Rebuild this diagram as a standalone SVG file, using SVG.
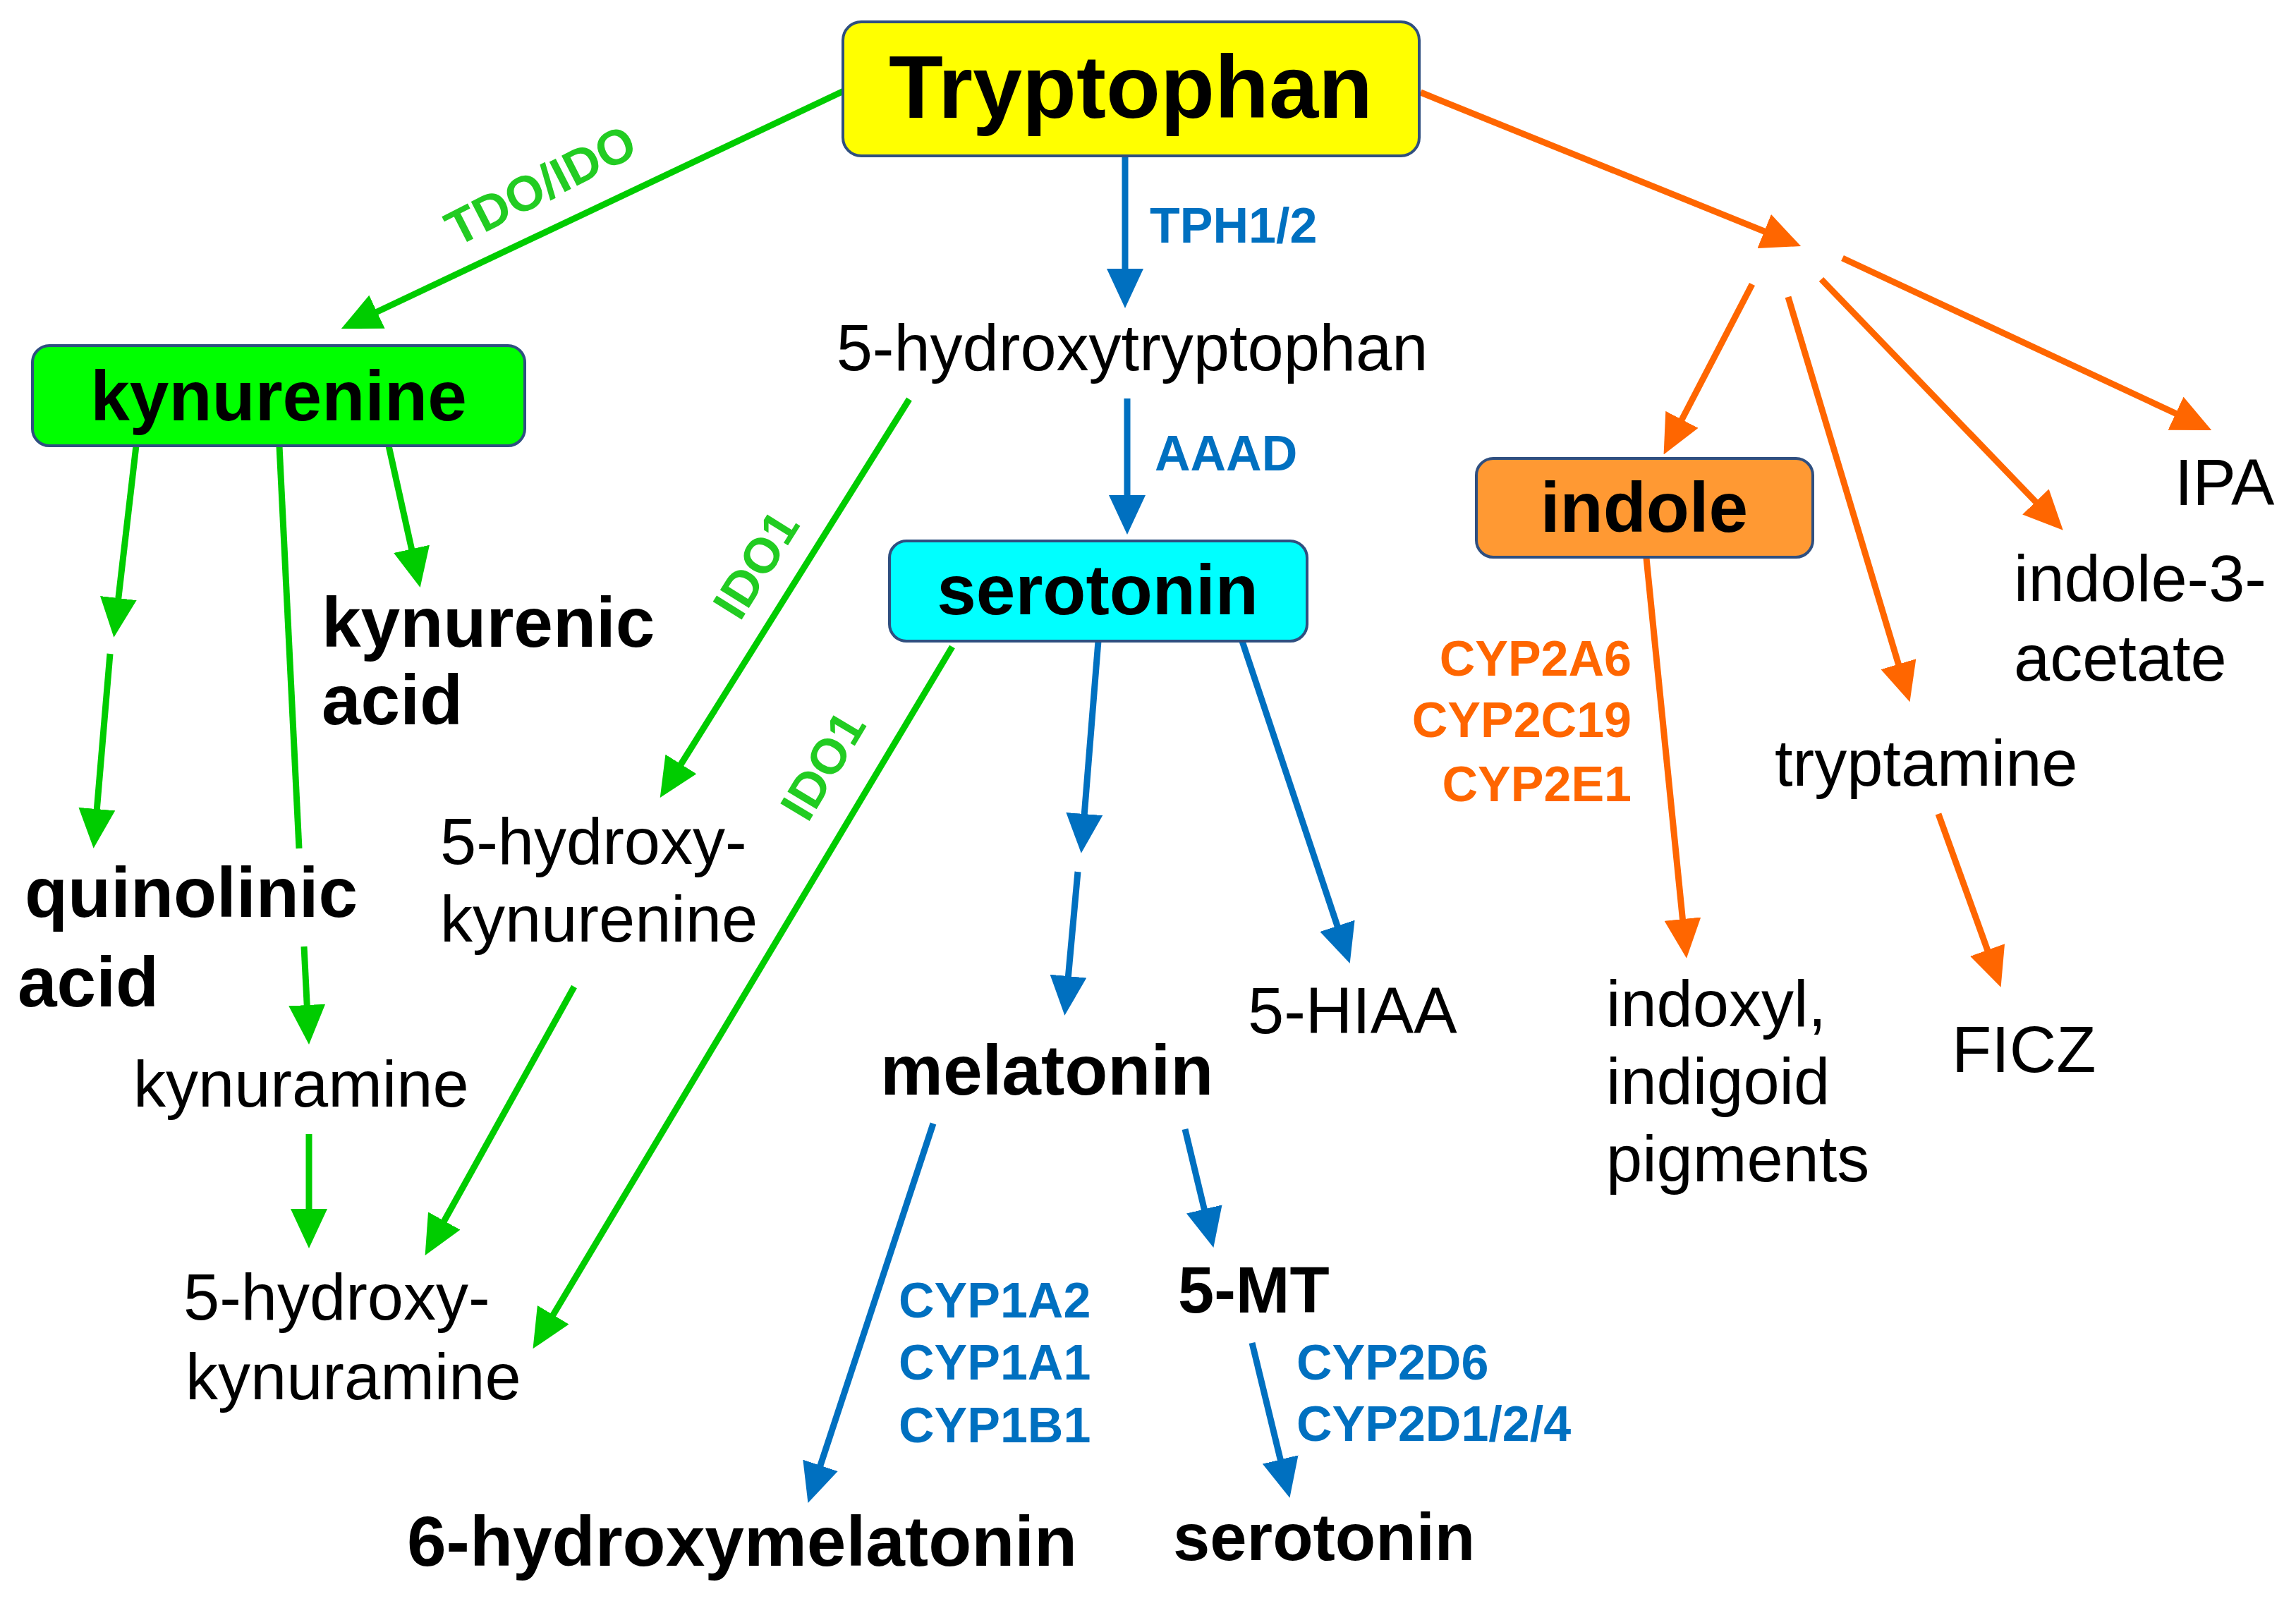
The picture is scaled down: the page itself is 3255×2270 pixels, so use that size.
<svg xmlns="http://www.w3.org/2000/svg" width="3255" height="2270" viewBox="0 0 3255 2270">
<style>
text{font-family:"Liberation Sans",Arial,sans-serif;fill:#000}
.b{font-weight:bold}
.lbl{font-size:92px}
.bl{font-size:100px;font-weight:bold}
.enz{font-size:70px;font-weight:bold}
.eg{fill:#22CC22}.eb{fill:#0070C0}.eo{fill:#FF6600}
.box{stroke:#2F4F80;stroke-width:4}
.g{stroke:#00CC00;stroke-width:9;fill:none}
.bu{stroke:#0070C0;stroke-width:9;fill:none}
.o{stroke:#FF6600;stroke-width:9;fill:none}
</style>
<defs>
<marker id="ag" markerUnits="userSpaceOnUse" markerWidth="56" markerHeight="52" viewBox="0 0 56 52" refX="16" refY="26" orient="auto"><path d="M0,0 L56,26 L0,52 z" fill="#00CC00"/></marker>
<marker id="ab" markerUnits="userSpaceOnUse" markerWidth="56" markerHeight="52" viewBox="0 0 56 52" refX="16" refY="26" orient="auto"><path d="M0,0 L56,26 L0,52 z" fill="#0070C0"/></marker>
<marker id="ao" markerUnits="userSpaceOnUse" markerWidth="56" markerHeight="52" viewBox="0 0 56 52" refX="16" refY="26" orient="auto"><path d="M0,0 L56,26 L0,52 z" fill="#FF6600"/></marker>
</defs>
<rect width="3255" height="2270" fill="#fff"/>
<g id="connectors">
<path class="g" d="M1196,129 L520,449" marker-end="url(#ag)"/>
<path class="g" d="M193,632 L166,864" marker-end="url(#ag)"/>
<path class="g" d="M156,927 L136,1163" marker-end="url(#ag)"/>
<path class="g" d="M396,632 L424,1203"/>
<path class="g" d="M431,1342 L436,1441" marker-end="url(#ag)"/>
<path class="g" d="M551,632 L587,794" marker-end="url(#ag)"/>
<path class="g" d="M1289,566 L957,1097" marker-end="url(#ag)"/>
<path class="g" d="M1350,917 L776,1878" marker-end="url(#ag)"/>
<path class="g" d="M814,1399 L622,1745" marker-end="url(#ag)"/>
<path class="g" d="M438,1608 L438,1730" marker-end="url(#ag)"/>
<path class="bu" d="M1595,221 L1595,397" marker-end="url(#ab)"/>
<path class="bu" d="M1598,565 L1598,718" marker-end="url(#ab)"/>
<path class="bu" d="M1557,909 L1536,1170" marker-end="url(#ab)"/>
<path class="bu" d="M1528,1236 L1513,1400" marker-end="url(#ab)"/>
<path class="bu" d="M1761,909 L1901,1328" marker-end="url(#ab)"/>
<path class="bu" d="M1323,1593 L1158,2093" marker-end="url(#ab)"/>
<path class="bu" d="M1680,1601 L1711,1730" marker-end="url(#ab)"/>
<path class="bu" d="M1775,1904 L1819,2085" marker-end="url(#ab)"/>
<path class="o" d="M2014,131 L2516,334" marker-end="url(#ao)"/>
<path class="o" d="M2484,403 L2377,609" marker-end="url(#ao)"/>
<path class="o" d="M2535,421 L2696,957" marker-end="url(#ao)"/>
<path class="o" d="M2582,396 L2897,723" marker-end="url(#ao)"/>
<path class="o" d="M2612,366 L3099,593" marker-end="url(#ao)"/>
<path class="o" d="M2334,791 L2387,1319" marker-end="url(#ao)"/>
<path class="o" d="M2748,1154 L2823,1362" marker-end="url(#ao)"/>
<text class="enz eg" text-anchor="middle" transform="translate(766,262) rotate(-27)" y="25">TDO/IDO</text>
<text class="enz eg" text-anchor="middle" transform="translate(1071,800) rotate(-58)" y="25">IDO1</text>
<text class="enz eg" text-anchor="middle" transform="translate(1166,1085) rotate(-59)" y="25">IDO1</text>
<text class="enz eb" x="1630" y="344">TPH1/2</text>
<text class="enz eb" x="1637" y="667">AAAD</text>
<text class="enz eb" x="1274" y="1868">CYP1A2</text>
<text class="enz eb" x="1274" y="1956">CYP1A1</text>
<text class="enz eb" x="1274" y="2045">CYP1B1</text>
<text class="enz eb" x="1838" y="1956">CYP2D6</text>
<text class="enz eb" x="1838" y="2043">CYP2D1/2/4</text>
<text class="enz eo" text-anchor="end" x="2313" y="958">CYP2A6</text>
<text class="enz eo" text-anchor="end" x="2313" y="1045">CYP2C19</text>
<text class="enz eo" text-anchor="end" x="2313" y="1136">CYP2E1</text>
</g>
<g id="tryptophan"><rect class="box" x="1195" y="31" width="817" height="190" rx="26" fill="#FFFF00"/><text class="b" x="1603" y="167" font-size="126" text-anchor="middle">Tryptophan</text></g>
<g id="kynurenine"><rect class="box" x="46" y="490" width="698" height="142" rx="24" fill="#00FF00"/><text class="bl" x="395" y="596" text-anchor="middle">kynurenine</text></g>
<g id="serotonin"><rect class="box" x="1261" y="767" width="592" height="142" rx="24" fill="#00FFFF"/><text class="bl" x="1556" y="871" text-anchor="middle">serotonin</text></g>
<g id="indole"><rect class="box" x="2093" y="650" width="477" height="140" rx="24" fill="#FF9933"/><text class="bl" x="2331" y="754" text-anchor="middle">indole</text></g>
<g id="hydroxytryptophan"><text class="lbl" x="1605" y="525" text-anchor="middle">5-hydroxytryptophan</text></g>
<g id="kynurenic-acid"><text class="bl" x="456" y="917" font-size="98">kynurenic</text><text class="bl" x="456" y="1027" font-size="98">acid</text></g>
<g id="quinolinic-acid"><text class="bl" x="35" y="1300">quinolinic</text><text class="bl" x="25" y="1427">acid</text></g>
<g id="hydroxykynurenine"><text class="lbl" x="624" y="1225">5-hydroxy-</text><text class="lbl" x="624" y="1335">kynurenine</text></g>
<g id="kynuramine"><text class="lbl" x="189" y="1569">kynuramine</text></g>
<g id="hydroxykynuramine"><text class="lbl" x="260" y="1871">5-hydroxy-</text><text class="lbl" x="263" y="1984">kynuramine</text></g>
<g id="hydroxymelatonin"><text class="bl" x="577" y="2220">6-hydroxymelatonin</text></g>
<g id="melatonin"><text class="bl" x="1248" y="1552">melatonin</text></g>
<g id="hiaa"><text class="lbl" x="1769" y="1465">5-HIAA</text></g>
<g id="mt"><text class="b" x="1670" y="1861" font-size="92">5-MT</text></g>
<g id="serotonin2"><text class="b" x="1663" y="2212" font-size="94">serotonin</text></g>
<g id="ipa"><text class="lbl" x="3083" y="716">IPA</text></g>
<g id="indole-acetate"><text class="lbl" x="2855" y="852">indole-3-</text><text class="lbl" x="2855" y="965">acetate</text></g>
<g id="tryptamine"><text class="lbl" x="2516" y="1114">tryptamine</text></g>
<g id="ficz"><text class="lbl" x="2767" y="1520">FICZ</text></g>
<g id="indoxyl"><text class="lbl" x="2277" y="1455">indoxyl,</text><text class="lbl" x="2277" y="1565">indigoid</text><text class="lbl" x="2277" y="1675">pigments</text></g>
</svg>
